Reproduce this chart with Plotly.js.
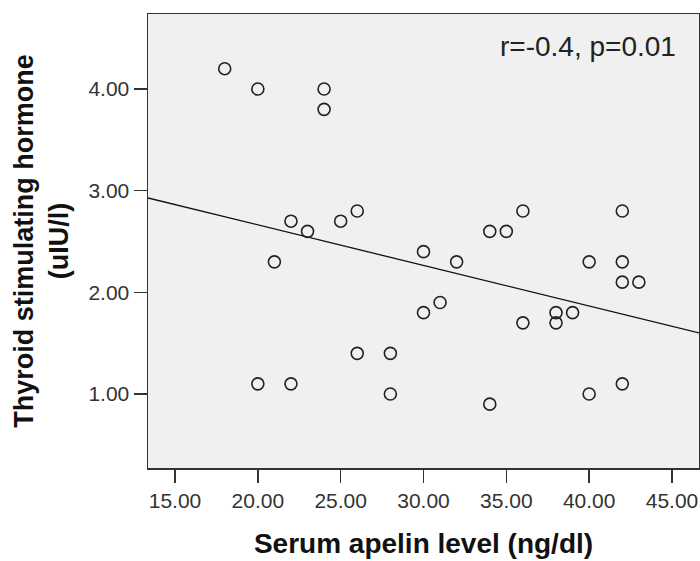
<!DOCTYPE html>
<html>
<head>
<meta charset="utf-8">
<script src="https://cdn.plot.ly/plotly-3.0.1.min.js"></script>
<style>html,body{margin:0;padding:0;background:#fff;}#chart{width:700px;height:561px;}</style>
</head>
<body>
<div id="chart"></div>
<script>
// Serum apelin level (ng/dl)
const apelin = [18, 20, 24, 24, 22, 23, 21, 25, 26, 30, 32, 34, 35, 36, 42, 40, 42, 42, 43,
                30, 31, 36, 38, 38, 39, 26, 28, 20, 22, 28, 34, 40, 42];
// Thyroid stimulating hormone (uIU/l)
const tsh = [4.2, 4.0, 4.0, 3.8, 2.7, 2.6, 2.3, 2.7, 2.8, 2.4, 2.3, 2.6, 2.6, 2.8, 2.8, 2.3, 2.3, 2.1, 2.1,
             1.8, 1.9, 1.7, 1.8, 1.7, 1.8, 1.4, 1.4, 1.1, 1.1, 1.0, 0.9, 1.0, 1.1];
const xTicks = [15, 20, 25, 30, 35, 40, 45];
const yTicks = [1, 2, 3, 4];
const xRange = [13.37, 46.63];
const yRange = [0.272, 4.738];
const statText = 'r=-0.4, p=0.01';

// least-squares fit line
const n = apelin.length;
const mx = apelin.reduce((a, b) => a + b, 0) / n;
const my = tsh.reduce((a, b) => a + b, 0) / n;
let sxy = 0, sxx = 0;
for (let i = 0; i < n; i++) { sxy += (apelin[i] - mx) * (tsh[i] - my); sxx += (apelin[i] - mx) ** 2; }
const slope = sxy / sxx;
const intercept = my - slope * mx;
const fitX = xRange.slice();
const fitY = fitX.map(x => intercept + slope * x);

const font = 'Liberation Sans, Arial, sans-serif';

const traces = [
  {
    x: fitX, y: fitY, type: 'scatter', mode: 'lines',
    line: {color: '#111', width: 1.3}, hoverinfo: 'skip', showlegend: false
  },
  {
    x: apelin, y: tsh, type: 'scatter', mode: 'markers',
    marker: {symbol: 'circle-open', size: 12, color: '#222', line: {width: 1.6, color: '#222'}},
    showlegend: false
  }
];

const layout = {
  width: 700, height: 561,
  margin: {l: 148, r: 1, t: 14, b: 93, pad: 0},
  paper_bgcolor: '#ffffff',
  plot_bgcolor: '#f0f0f0',
  showlegend: false,
  font: {family: font, color: '#222'},
  xaxis: {
    range: xRange, tickvals: xTicks, ticktext: xTicks.map(v => v.toFixed(2)),
    ticks: 'outside', ticklen: 13, tickwidth: 1.5, tickcolor: '#333',
    showgrid: false, zeroline: false,
    showline: true, linecolor: '#333', linewidth: 1.5, mirror: true,
    tickfont: {family: font, size: 21, color: '#333'},
    title: {text: '<b>Serum apelin level (ng/dl)</b>', font: {family: font, size: 28, color: '#111'}, standoff: 22}
  },
  yaxis: {
    range: yRange, tickvals: yTicks, ticktext: yTicks.map(v => v.toFixed(2)),
    ticks: 'outside', ticklen: 13, tickwidth: 1.5, tickcolor: '#333',
    showgrid: false, zeroline: false,
    showline: true, linecolor: '#333', linewidth: 1.5, mirror: true,
    tickfont: {family: font, size: 21, color: '#333'},
    title: {text: '<b>Thyroid stimulating hormone<br>(uIU/l)</b>', font: {family: font, size: 27, color: '#111'}, standoff: 12}
  },
  annotations: [{
    xref: 'paper', yref: 'paper', x: 0.962, y: 0.9295,
    xanchor: 'right', yanchor: 'middle', showarrow: false,
    text: statText, font: {family: font, size: 28, color: '#222'}
  }]
};

Plotly.newPlot('chart', traces, layout, {displayModeBar: false, staticPlot: true});
</script>
</body>
</html>
